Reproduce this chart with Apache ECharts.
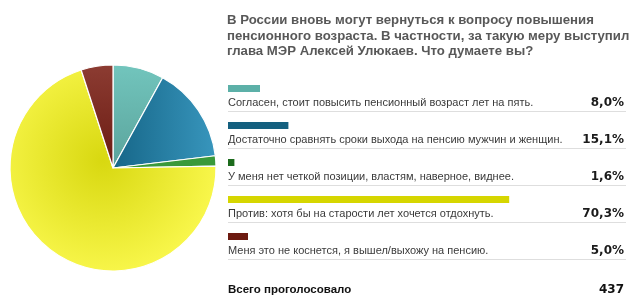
<!DOCTYPE html>
<html>
<head>
<meta charset="utf-8">
<script src="https://cdn.jsdelivr.net/npm/echarts@6/dist/echarts.min.js"></script>
<style>html,body{margin:0;padding:0;background:#fff}#c{width:640px;height:306px}</style>
</head>
<body>
<div id="c"></div>
<script>
var titleLines = [
  'В России вновь могут вернуться к вопросу повышения',
  'пенсионного возраста. В частности, за такую меру выступил',
  'глава МЭР Алексей Улюкаев. Что думаете вы?'
];
var categories = [
  'Согласен, стоит повысить пенсионный возраст лет на пять.',
  'Достаточно сравнять сроки выхода на пенсию мужчин и женщин.',
  'У меня нет четкой позиции, властям, наверное, виднее.',
  'Против: хотя бы на старости лет хочется отдохнуть.',
  'Меня это не коснется, я вышел/выхожу на пенсию.'
];
var values = [8.0, 15.1, 1.6, 70.3, 5.0];
var totalLabel = 'Всего проголосовало';
var totalVotes = 437;

var barColors = ['#5cb0a8', '#14607f', '#1c6b1c', '#d6d600', '#6c1a10'];
var pieColors = [
  new echarts.graphic.LinearGradient(0, 0, 0, 1, [{offset: 0, color: '#72c5bd'}, {offset: 1, color: '#5aa39b'}]),
  new echarts.graphic.LinearGradient(0, 0, 1, 0, [{offset: 0, color: '#166688'}, {offset: 1, color: '#3896bd'}]),
  '#3a993a',
  new echarts.graphic.RadialGradient(0.45, 0.45, 0.6, [{offset: 0, color: '#d8d810'}, {offset: 1, color: '#faf84e'}]),
  new echarts.graphic.LinearGradient(0, 0, 0, 1, [{offset: 0, color: '#8c3c32'}, {offset: 1, color: '#6a1a12'}])
];

function fmt(v) { return v.toFixed(1).replace('.', ',') + '%'; }

var chart = echarts.init(document.getElementById('c'), null, {renderer: 'canvas'});
var SANS = 'Liberation Sans';
var WIDE = 'DejaVu Sans';
chart.setOption({
  animation: false,
  grid: {left: 228, top: 74, width: 400, height: 185},
  xAxis: {type: 'value', min: 0, max: 100, show: false},
  yAxis: {type: 'category', data: categories, inverse: true, show: false},
  graphic: [
    {type: 'text', left: 227, top: 13, style: {text: titleLines.join('\n'), font: 'bold 13.2px ' + SANS, fill: '#585858', lineHeight: 15.5}},
    {type: 'text', x: 228, y: 290, style: {text: totalLabel, font: 'bold 11.5px ' + SANS, fill: '#111', verticalAlign: 'middle'}},
    {type: 'text', x: 624, y: 290, style: {text: String(totalVotes), font: 'bold 12px ' + WIDE, fill: '#111', align: 'right', verticalAlign: 'middle'}}
  ],
  series: [
    {
      type: 'pie',
      center: [113, 168],
      radius: 103,
      startAngle: 90,
      clockwise: true,
      label: {show: false},
      labelLine: {show: false},
      silent: true,
      itemStyle: {borderColor: '#ffffff', borderWidth: 1.2},
      data: values.map(function (v, i) { return {name: categories[i], value: v, itemStyle: {color: pieColors[i]}}; })
    },
    {
      type: 'custom',
      silent: true,
      encode: {x: 0, y: 1},
      data: values.map(function (v, i) { return [v, i]; }),
      renderItem: function (params, api) {
        var v = api.value(0), idx = api.value(1);
        var c = api.coord([0, idx]);
        var e = api.coord([v, idx]);
        var f = api.coord([100, idx]);
        var bandH = api.size([0, 1])[1];
        var top = c[1] - bandH / 2;
        return {
          type: 'group',
          children: [
            {type: 'rect', shape: {x: c[0], y: top + 11, width: e[0] - c[0], height: 7}, style: {fill: barColors[idx]}},
            {type: 'text', style: {text: categories[idx], x: c[0], y: top + 28.5, font: '11px ' + SANS, fill: '#3a3a3a', verticalAlign: 'middle'}},
            {type: 'text', style: {text: fmt(v), x: f[0] - 4, y: top + 28.5, font: 'bold 12px ' + WIDE, fill: '#1a1a1a', align: 'right', verticalAlign: 'middle'}},
            {type: 'line', shape: {x1: c[0], y1: top + 37.5, x2: f[0] - 2, y2: top + 37.5}, style: {stroke: '#dedede', lineWidth: 1}}
          ]
        };
      }
    }
  ]
});
</script>
</body>
</html>
